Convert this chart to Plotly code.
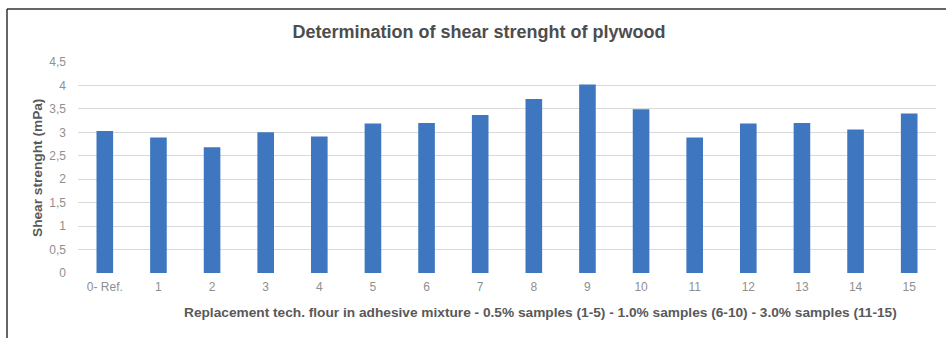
import plotly.graph_objects as go

categories = ["0- Ref.", "1", "2", "3", "4", "5", "6", "7", "8", "9", "10", "11", "12", "13", "14", "15"]
shear_strength = [3.03, 2.89, 2.68, 3.00, 2.91, 3.19, 3.20, 3.37, 3.71, 4.02, 3.49, 2.89, 3.19, 3.20, 3.06, 3.40]
y_ticks = [0, 0.5, 1, 1.5, 2, 2.5, 3, 3.5, 4, 4.5]
y_tick_labels = ["0", "0,5", "1", "1,5", "2", "2,5", "3", "3,5", "4", "4,5"]

title_text = "Determination of shear strenght of plywood"
x_title = "Replacement tech. flour in adhesive mixture - 0.5% samples (1-5) - 1.0% samples (6-10) - 3.0% samples (11-15)"
y_title = "Shear strenght (mPa)"

W, H = 946, 338
L, R, T, B = 78, 10, 62, 65

fig = go.Figure(go.Bar(
    x=categories, y=shear_strength,
    marker=dict(color="#3e77bf", line=dict(width=0)),
    width=0.31,
))

font_family = "Liberation Sans, Arial, sans-serif"

fig.update_layout(
    width=W, height=H,
    margin=dict(l=L, r=R, t=T, b=B),
    paper_bgcolor="white", plot_bgcolor="white",
    showlegend=False,
    font=dict(family=font_family),
    title=dict(text=title_text, x=479 / W, xanchor="center", y=1 - 32 / H, yanchor="middle",
               font=dict(size=18, color="#4d4d4d", family=font_family, weight="bold")),
)

fig.update_xaxes(
    type="category", showgrid=False, showline=False, zeroline=False,
    tickfont=dict(size=12, color="#8f8f8f"), ticks="", ticklabelstandoff=5,
)
fig.update_yaxes(
    range=[0, 4.5], tickvals=y_ticks, ticktext=y_tick_labels,
    showgrid=True, gridcolor="#d9d9d9", gridwidth=1.3, zeroline=False, showline=False,
    tickfont=dict(size=12, color="#8f8f8f"), ticks="", ticklabelstandoff=11,
)

plot_w = W - L - R
plot_h = H - T - B

fig.add_annotation(
    text=x_title, xref="paper", yref="paper",
    x=(540 - L) / plot_w, y=-(312 - (H - B)) / plot_h,
    xanchor="center", yanchor="middle", showarrow=False,
    font=dict(size=13.7, color="#595959", family=font_family, weight="bold"),
)
fig.add_annotation(
    text=y_title, xref="paper", yref="paper", textangle=-90,
    x=(37 - L) / plot_w, y=((H - B) - 168) / plot_h,
    xanchor="center", yanchor="middle", showarrow=False,
    font=dict(size=13.7, color="#595959", family=font_family, weight="bold"),
)

# outer chart frame (top and left edges visible in reference)
fig.add_shape(type="line", xref="paper", yref="paper",
              x0=-(L - 7) / plot_w, x1=(W - L) / plot_w, y0=1 + (T - 9) / plot_h, y1=1 + (T - 9) / plot_h,
              line=dict(color="#333333", width=1.5))
fig.add_shape(type="line", xref="paper", yref="paper",
              x0=-(L - 7) / plot_w, x1=-(L - 7) / plot_w, y0=1 + (T - 9) / plot_h, y1=-(B + 5) / plot_h,
              line=dict(color="#333333", width=1.5))

fig.write_html("out.html", config={"displayModeBar": False},
               post_script="document.body.style.margin='0';document.body.style.overflow='hidden';")
